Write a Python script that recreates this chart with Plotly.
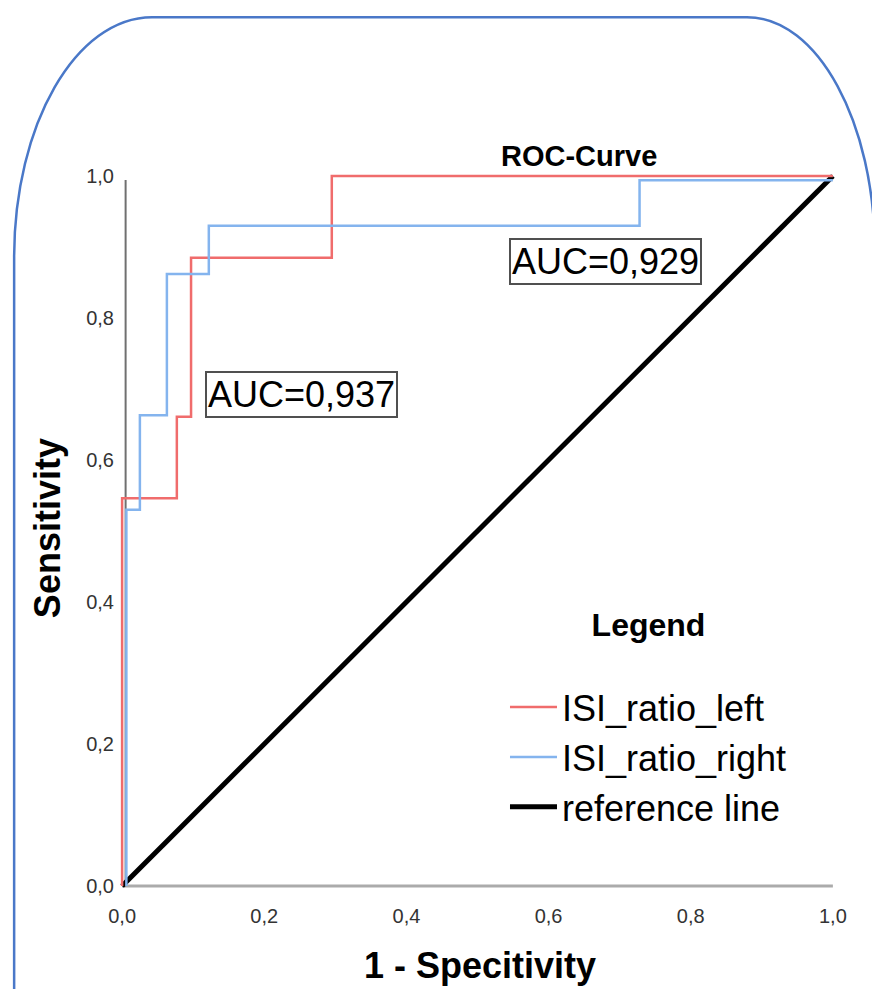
import plotly.graph_objects as go

# ---- data ----
left_fpr = [0.0, 0.0, 0.077, 0.097, 0.295, 1.0]
left_tpr = [0.0, 0.546, 0.661, 0.885, 1.0, 1.0]
right_fpr = [0.006, 0.006, 0.025, 0.063, 0.122, 0.728, 1.0]
right_tpr = [0.0, 0.530, 0.663, 0.862, 0.930, 0.994, 0.994]
ref_x = [0.0, 1.0]
ref_y = [0.0, 1.0]
tick_vals = [0.0, 0.2, 0.4, 0.6, 0.8, 1.0]
tick_text = ["0,0", "0,2", "0,4", "0,6", "0,8", "1,0"]
auc_left = "AUC=0,937"
auc_right = "AUC=0,929"

FONT = "Liberation Sans, Arial, sans-serif"
RED = "#f06c6c"
BLUE = "#84b4ee"

# ---- layout geometry (page pixels; page body has an 8px margin) ----
OFF = 8.0
W_PX, H_PX = 880 - int(OFF), 989 - int(OFF)
X0, X1 = 122.0 - OFF, 833.0 - OFF   # figure pixel of x=0 / x=1
Y0, Y1 = 886.0 - OFF, 176.0 - OFF   # figure pixel of y=0 / y=1
PADR = 0.01
sx = X1 - X0
sy = Y0 - Y1
L = X0 - PADR * sx
Wd = (1 + 2 * PADR) * sx
T = Y1 - PADR * sy
Hd = (1 + 2 * PADR) * sy
B = T + Hd

def px(xp):   # page pixel -> paper
    return (xp - OFF - L) / Wd

def py(yp):
    return (B - (yp - OFF)) / Hd

def dx(xp):   # page pixel -> data
    return (xp - OFF - X0) / sx

def dy(yp):
    return (Y0 - (yp - OFF)) / sy

fig = go.Figure()
fig.add_trace(go.Scatter(x=ref_x, y=ref_y, mode="lines", name="reference line",
                         line=dict(color="black", width=5), legendrank=3,
                         legendgroup="c"))
fig.add_trace(go.Scatter(x=left_fpr, y=left_tpr, mode="lines", name="ISI_ratio_left",
                         line=dict(color=RED, width=2.5, shape="hv"), legendrank=1,
                         legendgroup="a"))
fig.add_trace(go.Scatter(x=right_fpr, y=right_tpr, mode="lines", name="ISI_ratio_right",
                         line=dict(color=BLUE, width=2.5, shape="hv"), legendrank=2,
                         legendgroup="b"))

# axis lines
shapes = [
    dict(type="line", xref="x", yref="y", x0=0, x1=1, y0=0, y1=0,
         line=dict(color="#ababab", width=3), layer="below"),
    dict(type="line", xref="x", yref="y", x0=dx(125.5), x1=dx(125.5), y0=0, y1=dy(180),
         line=dict(color="#707070", width=2), layer="below"),
]

# rounded blue frame (cubic bezier corners)
k = 0.5523
lx, rx, ty, by = 14.0, 875.0, 17.0, 995.0
rxl, ryl = 138.0, 240.0
rxr, ryr = 128.0, 235.0
def P(a, b):
    return f"{px(a):.5f},{py(b):.5f}"
path = (
    f"M{P(lx, by)} L{P(lx, ty + ryl)} "
    f"C{P(lx, ty + ryl - k * ryl)} {P(lx + rxl - k * rxl, ty)} {P(lx + rxl, ty)} "
    f"L{P(rx - rxr, ty)} "
    f"C{P(rx - rxr + k * rxr, ty)} {P(rx, ty + ryr - k * ryr)} {P(rx, ty + ryr)} "
    f"L{P(rx, by)}"
)
shapes.append(dict(type="path", xref="paper", yref="paper", path=path,
                   line=dict(color="#4a78c8", width=2.5), layer="above"))

annotations = [
    dict(text="<b>ROC-Curve</b>", x=px(579), y=py(156), xref="paper", yref="paper",
         showarrow=False, font=dict(family=FONT, size=29, color="black"),
         xanchor="center", yanchor="middle"),
    dict(text="<b>Sensitivity</b>", x=px(47), y=py(528), xref="paper", yref="paper",
         showarrow=False, textangle=-90, font=dict(family=FONT, size=36, color="black"),
         xanchor="center", yanchor="middle"),
    dict(text="<b>1 - Specitivity</b>", x=px(480), y=py(966), xref="paper", yref="paper",
         showarrow=False, font=dict(family=FONT, size=36, color="black"),
         xanchor="center", yanchor="middle"),
    dict(text=auc_left, x=dx(301.5), y=dy(394), xref="x", yref="y", showarrow=False,
         font=dict(family=FONT, size=36, color="black"), bordercolor="#505050",
         borderwidth=2, borderpad=1, bgcolor="white", xanchor="center", yanchor="middle"),
    dict(text=auc_right, x=dx(605.5), y=dy(261), xref="x", yref="y", showarrow=False,
         font=dict(family=FONT, size=36, color="black"), bordercolor="#505050",
         borderwidth=2, borderpad=1, bgcolor="white", xanchor="center", yanchor="middle"),
]

fig.update_layout(
    width=W_PX, height=H_PX, autosize=False,
    margin=dict(l=L, r=W_PX - (L + Wd), t=T, b=H_PX - B, pad=0),
    paper_bgcolor="white", plot_bgcolor="white",
    shapes=shapes, annotations=annotations,
    showlegend=True,
    legend=dict(x=px(505), y=py(594), xanchor="left", yanchor="top",
                xref="paper", yref="paper",
                font=dict(family=FONT, size=36, color="black"),
                title=dict(text="<b>Legend</b><br> ", side="top center",
                           font=dict(family=FONT, size=32, color="black")),
                bgcolor="rgba(0,0,0,0)", tracegroupgap=12, traceorder="normal",
                itemwidth=47),
    xaxis=dict(range=[-PADR, 1 + PADR], tickvals=tick_vals, ticktext=tick_text,
               showgrid=False, zeroline=False, showline=False,
               ticks="outside", ticklen=5, tickcolor="rgba(0,0,0,0)",
               tickfont=dict(family=FONT, size=20, color="#333333")),
    yaxis=dict(range=[-PADR, 1 + PADR], tickvals=tick_vals, ticktext=tick_text,
               showgrid=False, zeroline=False, showline=False,
               ticks="", tickfont=dict(family=FONT, size=20, color="#333333")),
)

fig.write_html("out.html")
